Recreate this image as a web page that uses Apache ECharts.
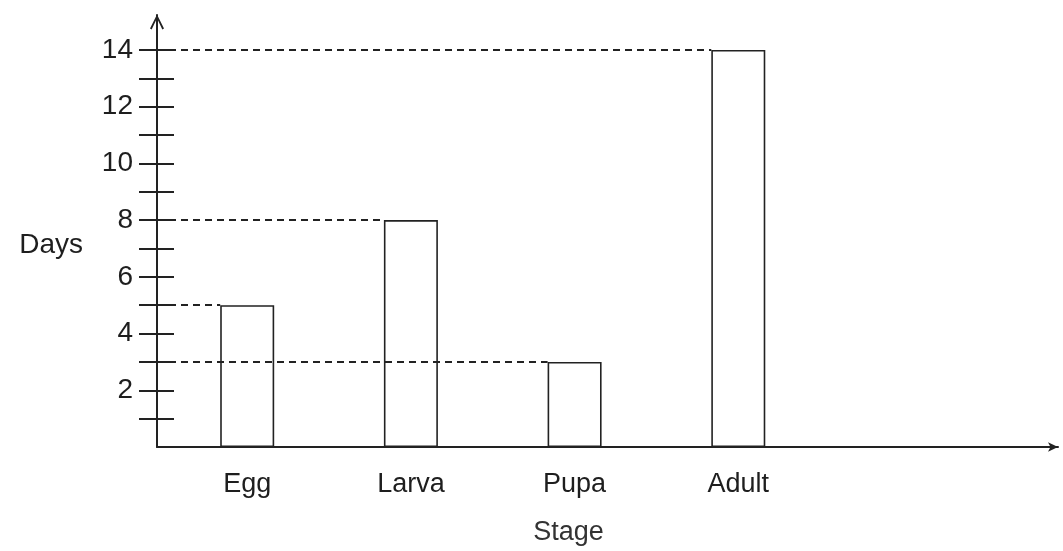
<!DOCTYPE html>
<html>
<head>
<meta charset="utf-8">
<script src="https://cdn.jsdelivr.net/npm/echarts@6/dist/echarts.min.js"></script>
<style>
html,body{margin:0;padding:0;background:#fff;}
#c{width:1063px;height:551px;}
</style>
</head>
<body>
<div id="c"></div>
<script>
const categories = ['Egg', 'Larva', 'Pupa', 'Adult'];
const days = [5, 8, 3, 14];
const yTickValues = [1, 2, 3, 4, 5, 6, 7, 8, 9, 10, 11, 12, 13, 14];
const yLabelValues = [2, 4, 6, 8, 10, 12, 14];
const xTitle = 'Stage';
const yTitle = 'Days';

const gridLeft = 157, gridRight = 5, gridTop = 15, gridBottom = 104;
const xMin = 0.449, xMax = 5.953;
const yMin = 0, yMax = 15.23;
const barW = 54;
const chartW = 1063;
const unitPx = (chartW - gridLeft - gridRight) / (xMax - xMin);
const halfBar = (barW / 2) / unitPx;

const font = '"Liberation Sans", Arial, sans-serif';
const ink = '#1e1e1e';

const positions = categories.map((c, i) => i + 1);
const barData = days.map((d, i) => [positions[i], d]);

const chart = echarts.init(document.getElementById('c'));
chart.setOption({
  animation: false,
  backgroundColor: '#fff',
  grid: { left: gridLeft, right: gridRight, top: gridTop, bottom: gridBottom },
  xAxis: {
    type: 'value', min: xMin, max: xMax,
    name: xTitle, nameLocation: 'middle', nameGap: 72,
    nameTextStyle: { fontFamily: font, fontSize: 27, color: '#333', padding: [0, 78, 0, 0] },
    axisLine: { show: true, onZero: false, symbol: ['none', 'arrow'], symbolSize: [7, 10],
      lineStyle: { color: '#222', width: 2 } },
    axisTick: { show: false },
    splitLine: { show: false },
    axisLabel: {
      customValues: positions, margin: 24,
      formatter: v => categories[Math.round(v) - 1] || '',
      fontFamily: font, fontSize: 27, color: ink
    }
  },
  yAxis: [{
    type: 'value', min: yMin, max: yMax,
    name: yTitle, nameLocation: 'middle', nameRotate: 0, nameGap: 74,
    nameTextStyle: { fontFamily: font, fontSize: 28, color: ink, verticalAlign: 'top' },
    axisLine: { show: true, onZero: false, symbol: ['none', 'path://M0,10 L5,0 L10,10 L8.8,10.6 L5,2.6 L1.2,10.6 Z'],
      symbolSize: [14, 16], symbolOffset: [0, -7],
      lineStyle: { color: '#222', width: 2 } },
    axisTick: { show: true, inside: false, length: 18, customValues: yTickValues,
      lineStyle: { color: '#222', width: 2 } },
    splitLine: { show: false },
    axisLabel: { customValues: yLabelValues, margin: 24, fontFamily: font, fontSize: 28, color: ink }
  }, {
    type: 'value', min: yMin, max: yMax, position: 'left',
    axisLine: { show: false },
    axisTick: { show: true, inside: true, length: 17, customValues: yTickValues,
      lineStyle: { color: '#222', width: 2 } },
    axisLabel: { show: false },
    splitLine: { show: false }
  }],
  series: [{
    type: 'bar',
    data: barData,
    barWidth: barW,
    itemStyle: { color: '#fff', borderColor: '#222', borderWidth: 1.6 },
    markLine: {
      silent: true,
      symbol: ['none', 'none'],
      label: { show: false },
      lineStyle: { color: '#222', width: 1.8, type: [7, 5] },
      data: days.map((d, i) => [
        { coord: [xMin, d] },
        { coord: [positions[i] - halfBar, d] }
      ])
    }
  }]
});
</script>
</body>
</html>
